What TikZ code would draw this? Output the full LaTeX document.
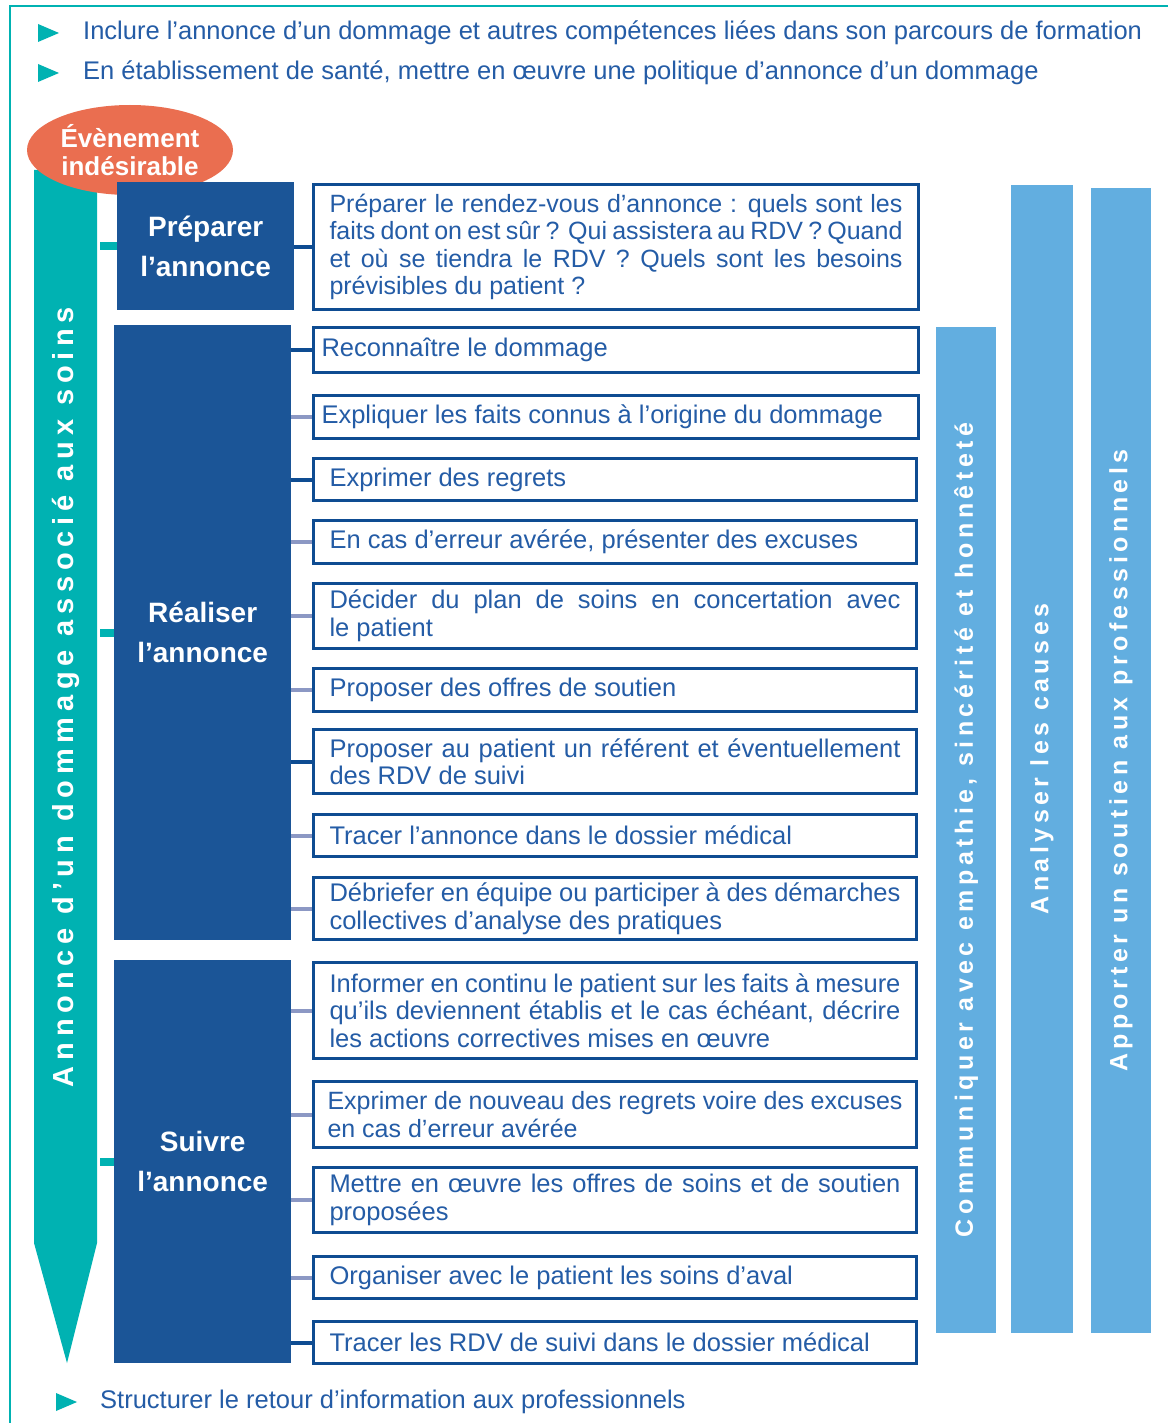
\documentclass[tikz,border=0pt]{standalone}
\usepackage{fontspec}
\setmainfont{Liberation Sans}
\newfontfamily\spacedfont[LetterSpace=18]{Liberation Sans}
\newfontfamily\arrowfont[LetterSpace=20]{Liberation Sans}
\usetikzlibrary{shapes.geometric}
\definecolor{tealc}{HTML}{00B2B2}
\definecolor{darkboxc}{HTML}{1B5597}
\definecolor{bordc}{HTML}{0E4C92}
\definecolor{barc}{HTML}{62AEE0}
\definecolor{orangec}{HTML}{EA6E50}
\definecolor{txtc}{HTML}{245CA6}
\definecolor{greyc}{HTML}{8C98C4}
\newcommand\bodyfnt{\fontsize{25.5}{27.5}\selectfont\hyphenpenalty=10000 }
\newcommand\smallbodyfnt{\fontsize{25}{27.5}\selectfont\hyphenpenalty=10000 }
\newcommand\titlefnt{\fontsize{28}{40}\selectfont\bfseries}
\newcommand\vertfnt{\fontsize{25}{28}\spacedfont\bfseries}
\begin{document}
\begin{tikzpicture}[x=1pt,y=-1pt,
  wbox/.style={draw=bordc, line width=3pt, fill=white, anchor=north west,
    minimum width=603pt, text width=571pt, inner xsep=16pt, inner ysep=0pt,
    align=justify, text=txtc, font=\bodyfnt},
  dbox/.style={fill=darkboxc, text=white, font=\titlefnt, align=center,
    anchor=north west, minimum width=177pt, inner sep=0pt},
  vbar/.style={fill=barc, rotate=90, text=white, font=\vertfnt, inner sep=0pt},
  cdark/.style={draw=bordc, line width=4pt},
  cgrey/.style={draw=greyc, line width=4pt},
  tick/.style={draw=tealc, line width=8pt},
  bullet/.style={fill=tealc},
  btext/.style={anchor=west, text=txtc, font=\bodyfnt, inner sep=0pt}]
\useasboundingbox (0,0) rectangle (1168,1423);
\fill[white] (0,0) rectangle (1168,1423);
% frame
\draw[tealc, line width=2.5pt] (10,1423) -- (10,6) -- (1168,6);
% top bullets
\fill[bullet] (38,24) -- (59,33) -- (38,42) -- cycle;
\node[btext] (t1) at (83,33) {Inclure l’annonce d’un dommage et autres compétences liées dans son parcours de formation};
\fill[bullet] (38,64) -- (59,73) -- (38,82) -- cycle;
\node[btext] (t2) at (83,73) {En établissement de santé, mettre en œuvre une politique d’annonce d’un dommage};
\fill[bullet] (56,1393) -- (77,1402) -- (56,1411) -- cycle;
\node[btext] (t3) at (100,1402) {Structurer le retour d’information aux professionnels};
% big arrow
\fill[tealc] (34,170) -- (97,170) -- (97,1243) -- (67,1363) -- (34,1243) -- cycle;
\node[rotate=90, text=white, font=\fontsize{29}{30}\arrowfont\bfseries, inner sep=0pt] (arrtxt) at (66,697) {Annonce d’un dommage associé aux soins};
% event ellipse
\node[ellipse, fill=orangec, minimum width=206pt, minimum height=90pt, inner sep=0pt] (ev) at (130,150) {};
\node[text=white, font=\fontsize{26}{28}\selectfont\bfseries, align=center, inner sep=0pt] (evt) at (ev.center) {Évènement\\indésirable};
% dark boxes
\node[dbox, minimum height=128pt] (d1) at (117,182) {Préparer\\l’annonce};
\node[dbox, minimum height=615pt] (d2) at (114,325) {Réaliser\\l’annonce};
\node[dbox, minimum height=403pt] (d3) at (114,960) {Suivre\\l’annonce};
% teal ticks
\draw[tick] (d1.west) -- ++(-17,0);
\draw[tick] (d2.west) -- ++(-14,0);
\draw[tick] (d3.west) -- ++(-14,0);
% white boxes
\node[wbox, minimum width=605pt, text width=573pt, minimum height=125pt, font=\smallbodyfnt] (w1) at (312,183) {Préparer le rendez-vous d’annonce : quels sont les\linebreak faits dont on est sûr ? Qui assistera au RDV ? Quand\linebreak et où se tiendra le RDV ? Quels sont les besoins\linebreak prévisibles du patient ?};
\node[wbox, minimum width=605pt, text width=589pt, inner xsep=8pt, minimum height=45pt] (w2) at (312,326) {Reconnaître le dommage};
\node[wbox, minimum width=605pt, text width=589pt, inner xsep=8pt, minimum height=43pt] (w3) at (312,394) {Expliquer les faits connus à l’origine du dommage};
\node[wbox, minimum height=42pt] (w4) at (312,457) {Exprimer des regrets};
\node[wbox, minimum height=43pt] (w5) at (312,519) {En cas d’erreur avérée, présenter des excuses};
\node[wbox, minimum height=65pt] (w6) at (312,582) {Décider du plan de soins en concertation avec\linebreak le patient};
\node[wbox, minimum height=43pt] (w7) at (312,667) {Proposer des offres de soutien};
\node[wbox, minimum height=64pt] (w8) at (312,728) {Proposer au patient un référent et éventuellement\linebreak des RDV de suivi};
\node[wbox, minimum height=42pt] (w9) at (312,813) {Tracer l’annonce dans le dossier médical};
\node[wbox, minimum height=62pt] (w10) at (312,876) {Débriefer en équipe ou participer à des démarches\linebreak collectives d’analyse des pratiques};
\node[wbox, minimum height=96pt] (w11) at (312,961) {Informer en continu le patient sur les faits à mesure\linebreak qu’ils deviennent établis et le cas échéant, décrire\linebreak les actions correctives mises en œuvre};
\node[wbox, minimum height=66pt, text width=575pt, inner xsep=14pt, font=\smallbodyfnt] (w12) at (312,1080) {Exprimer de nouveau des regrets voire des excuses\linebreak en cas d’erreur avérée};
\node[wbox, minimum height=65pt] (w13) at (312,1166) {Mettre en œuvre les offres de soins et de soutien\linebreak proposées};
\node[wbox, minimum height=42pt] (w14) at (312,1255) {Organiser avec le patient les soins d’aval};
\node[wbox, minimum height=42pt] (w15) at (312,1320) {Tracer les RDV de suivi dans le dossier médical};
% connectors
\draw[cdark] (d1.east |- w1.west) -- (w1.west);
\draw[cdark] (d2.east |- w2.west) -- (w2.west);
\draw[cgrey] (d2.east |- w3.west) -- (w3.west);
\draw[cdark] (d2.east |- w4.west) -- (w4.west);
\draw[cgrey] (d2.east |- w5.west) -- (w5.west);
\draw[cgrey] (d2.east |- w6.west) -- (w6.west);
\draw[cgrey] (d2.east |- w7.west) -- (w7.west);
\draw[cdark] (d2.east |- w8.west) -- (w8.west);
\draw[cgrey] (d2.east |- w9.west) -- (w9.west);
\draw[cgrey] (d2.east |- w10.west) -- (w10.west);
\draw[cgrey] (d3.east |- w11.west) -- (w11.west);
\draw[cgrey] (d3.east |- w12.west) -- (w12.west);
\draw[cgrey] (d3.east |- w13.west) -- (w13.west);
\draw[cgrey] (d3.east |- w14.west) -- (w14.west);
\draw[cdark] (d3.east |- w15.west) -- (w15.west);
% vertical bars
\node[vbar, minimum width=1006pt, minimum height=60pt] (va) at (966,830) {Communiquer avec empathie, sincérité et honnêteté};
\node[vbar, minimum width=1148pt, minimum height=62pt] (vb) at (1042,759) {Analyser les causes};
\node[vbar, minimum width=1145pt, minimum height=60pt] (vc) at (1121,760.5) {Apporter un soutien aux professionnels};
\end{tikzpicture}
\end{document}
